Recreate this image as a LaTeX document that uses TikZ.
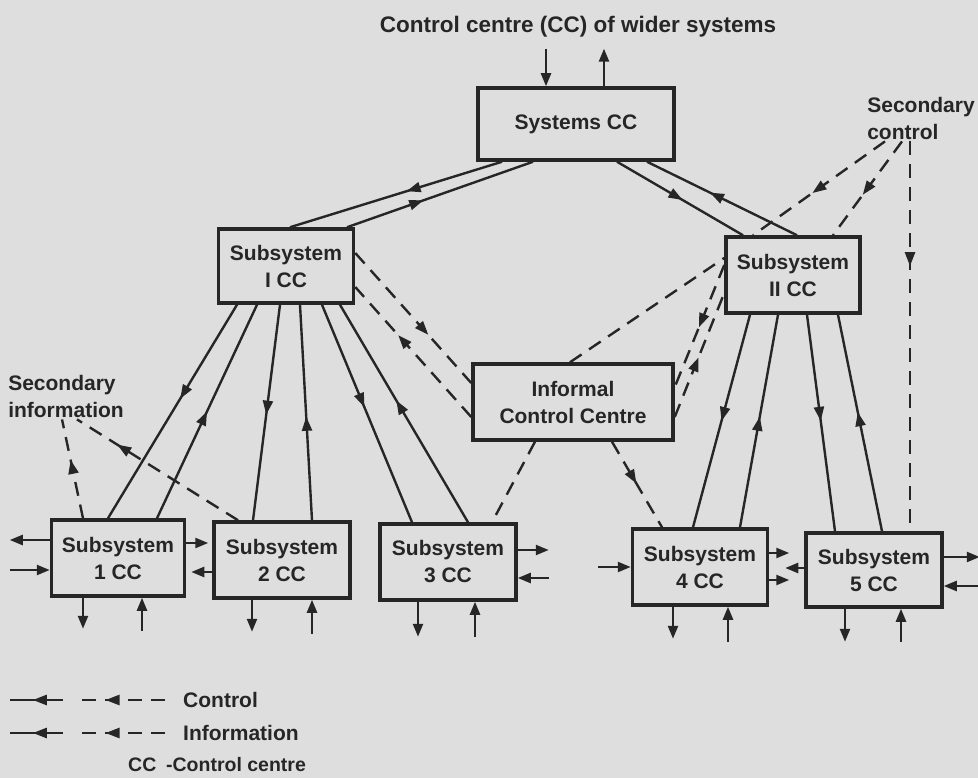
\documentclass[tikz,border=0pt]{standalone}
\usepackage{fontspec}
\setmainfont{Liberation Sans}
\usetikzlibrary{arrows.meta, decorations.markings, positioning}
\colorlet{colorInk}{black!85}
\colorlet{colorPaper}{black!13}
\tikzset{
  box/.style={draw=colorInk, line width=3.5pt, align=center, inner sep=0pt, minimum width=135pt, minimum height=76pt},
  tag/.style={align=left, inner sep=2pt},
  link/.style={draw=colorInk, line width=2.4pt, postaction={decorate}, decoration={markings, mark=at position #1 with {\arrow{Triangle[length=14pt,width=10pt]}}}},
  link/.default=0.5,
  dlink/.style={link=#1, dash pattern=on 14pt off 9pt},
  dlink/.default=0.5,
  dline/.style={draw=colorInk, line width=2.4pt, dash pattern=on 14pt off 9pt},
  stub/.style={draw=colorInk, line width=2.4pt, -{Triangle[length=13pt,width=10pt]}},
  stubin/.style={draw=colorInk, line width=2.4pt, {Triangle[length=13pt,width=10pt]}-},
}
\begin{document}
\begin{tikzpicture}[x=1pt, y=-1pt, color=colorInk, font=\fontsize{21}{27}\selectfont\bfseries]
\fill[colorPaper] (0,0) rectangle (978,778);
\useasboundingbox (0,0) rectangle (978,778);
% control centres
\node[box, minimum width=196pt, minimum height=72pt] (sys) at (576,124) {Systems CC};
\node[box, minimum height=74pt] (sI) at (286,266) {Subsystem\\I CC};
\node[box, minimum width=134pt] (sII) at (793,275) {Subsystem\\II CC};
\node[box, minimum width=200pt] (inf) at (573,402) {Informal\\Control Centre};
\node[box, minimum width=133pt] (s1) at (118,558) {Subsystem\\1 CC};
\node[box, minimum width=136pt] (s2) at (282,560) {Subsystem\\2 CC};
\node[box, minimum width=136pt] (s3) at (448,562) {Subsystem\\3 CC};
\node[box] (s4) at (700,567) {Subsystem\\4 CC};
\node[box, minimum width=136pt, minimum height=74pt] (s5) at (874,570) {Subsystem\\5 CC};
% labels
\node[tag, font=\fontsize{22.5}{27}\selectfont\bfseries] (wider) at (578,27) {Control centre (CC) of wider systems};
\node[tag] (sctl) at (921,118) {Secondary\\control};
\node[tag] (sinf) at (66,396) {Secondary\\information};
\coordinate (sysin) at ([xshift=-30pt]sys.north);
\coordinate (sysout) at ([xshift=28pt]sys.north);
\coordinate (s5dash) at ([xshift=36pt]s5.north);
% wider systems
\draw[stub, shorten <=9pt] (wider.south -| sysin) -- (sysin);
\draw[stub, shorten >=9pt] (sysout) -- (wider.south -| sysout);
% systems CC to subsystems I and II
\draw[link=0.45] ([xshift=-74pt]sys.south) -- ([xshift=4pt]sI.north);
\draw[link=0.41] ([xshift=61pt]sI.north) -- ([xshift=-43pt]sys.south);
\draw[link=0.52] ([xshift=41pt]sys.south) -- ([xshift=-50pt]sII.north);
\draw[link=0.58] ([xshift=4pt]sII.north) -- ([xshift=71pt]sys.south);
% subsystem I to 1, 2, 3
\draw[link=0.44] ([xshift=-49pt]sI.south) -- ([xshift=-10pt]s1.north);
\draw[link=0.50] ([xshift=39pt]s1.north) -- ([xshift=-29pt]sI.south);
\draw[link=0.51] ([xshift=-6pt]sI.south) -- ([xshift=-29pt]s2.north);
\draw[link=0.48] ([xshift=30pt]s2.north) -- ([xshift=14pt]sI.south);
\draw[link=0.47] ([xshift=36pt]sI.south) -- ([xshift=-36pt]s3.north);
\draw[link=0.56] ([xshift=20pt]s3.north) -- ([xshift=54pt]sI.south);
% subsystem II to 4, 5
\draw[link=0.50] ([xshift=-43pt]sII.south) -- ([xshift=-7pt]s4.north);
\draw[link=0.52] ([xshift=40pt]s4.north) -- ([xshift=-15pt]sII.south);
\draw[link=0.49] ([xshift=14pt]sII.south) -- ([xshift=-39pt]s5.north);
\draw[link=0.55] ([xshift=8pt]s5.north) -- ([xshift=45pt]sII.south);
% informal control centre
\draw[dlink=0.63] ([yshift=13pt]sI.east) -- ([yshift=19pt]inf.west);
\draw[dlink=0.63] ([yshift=-15pt]inf.west) -- ([yshift=-21pt]sI.east);
\draw[dline] ([xshift=-3pt]inf.north) -- ([yshift=17pt]sII.west);
\draw[dlink=0.51] ([yshift=10pt]sII.west) -- ([yshift=15pt]inf.east);
\draw[dlink=0.48] ([yshift=-15pt]inf.east) -- ([yshift=-18pt]sII.west);
\draw[dline] ([xshift=-38pt]inf.south) -- ([xshift=44pt]s3.north);
\draw[dlink=0.49] ([xshift=39pt]inf.south) -- ([xshift=-38pt]s4.north);
% secondary control and information
\draw[dlink=0.55] ([xshift=-36pt]sctl.south) -- ([xshift=-40pt]sII.north);
\draw[dlink=0.57] ([xshift=-19pt]sctl.south) -- ([xshift=40pt]sII.north);
\draw[dlink=0.32] (sctl.south -| s5dash) -- (s5dash);
\draw[dlink=0.59] ([xshift=-35pt]s1.north) -- ([xshift=-4pt]sinf.south);
\draw[dlink=0.75] ([xshift=-44pt]s2.north) -- ([xshift=11pt]sinf.south);
% inputs and outputs of subsystems
\draw[stub] ([yshift=18pt]s1.west) -- ++(-40,0);
\draw[stubin] ([yshift=-12pt]s1.west) -- ++(-40,0);
\draw[stub] ([yshift=15pt]s1.east) -- ++(22,0);
\draw[stub] ([yshift=-12pt]s2.west) -- ++(-21,0);
\draw[stub] ([xshift=-35pt]s1.south) -- ++(0,31);
\draw[stubin] ([xshift=24pt]s1.south) -- ++(0,33);
\draw[stub] ([xshift=-30pt]s2.south) -- ++(0,32);
\draw[stubin] ([xshift=30pt]s2.south) -- ++(0,34);
\draw[stub] ([yshift=12pt]s3.east) -- ++(31,0);
\draw[stubin] ([yshift=-16pt]s3.east) -- ++(31,0);
\draw[stub] ([xshift=-30pt]s3.south) -- ++(0,35);
\draw[stubin] ([xshift=27pt]s3.south) -- ++(0,35);
\draw[stubin] (s4.west) -- ++(-33,0);
\draw[stub] ([yshift=14pt]s4.east) -- ++(20,0);
\draw[stub] ([yshift=-13pt]s4.east) -- ++(20,0);
\draw[stub] ([xshift=-27pt]s4.south) -- ++(0,32);
\draw[stubin] ([xshift=28pt]s4.south) -- ++(0,35);
\draw[stub] ([yshift=2pt]s5.west) -- ++(-19,0);
\draw[stub] ([yshift=13pt]s5.east) -- ++(36,0);
\draw[stubin] ([yshift=-16pt]s5.east) -- ++(36,0);
\draw[stub] ([xshift=-29pt]s5.south) -- ++(0,33);
\draw[stubin] ([xshift=27pt]s5.south) -- ++(0,33);
% legend
\node[anchor=west, inner sep=0pt] (lgctl) at (183,700) {Control};
\node[anchor=west, inner sep=0pt] (lginf) at (183,733) {Information};
\node[anchor=west, inner sep=0pt, font=\fontsize{19.5}{24}\selectfont\bfseries] (lgcc) at (128,765) {CC\enspace-Control centre};
\draw[link=0.57] ([xshift=-120pt]lgctl.west) -- ++(-53,0);
\draw[dlink=0.7] ([xshift=-18pt]lgctl.west) -- ++(-85,0);
\draw[link=0.57] ([xshift=-120pt]lginf.west) -- ++(-53,0);
\draw[dlink=0.7] ([xshift=-18pt]lginf.west) -- ++(-85,0);
\end{tikzpicture}
\end{document}
